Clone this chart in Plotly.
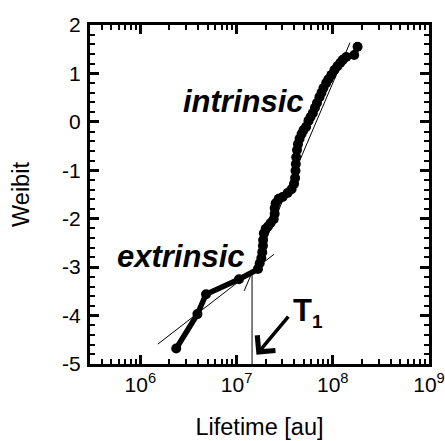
import numpy as np
import plotly.graph_objects as go

# Measured Weibull-plot data (lifetime in au, Weibit)
lifetime = [2.36e6, 3.92e6, 4.82e6, 1.06e7, 1.67e7,
            1.74e7, 1.81e7, 1.85e7, 1.88e7, 1.89e7, 1.92e7, 2.01e7, 2.12e7, 2.26e7, 2.43e7,
            2.49e7, 2.49e7, 2.55e7, 2.74e7, 3.01e7, 3.39e7, 3.73e7, 3.96e7, 4.06e7, 4.10e7,
            4.13e7, 4.17e7, 4.25e7, 4.35e7, 4.52e7, 4.74e7, 4.97e7, 5.29e7, 5.59e7, 5.87e7,
            6.20e7, 6.53e7, 6.85e7, 7.27e7, 7.63e7, 8.00e7, 8.53e7, 9.00e7, 9.68e7, 1.04e8,
            1.12e8, 1.20e8, 1.27e8, 1.38e8, 1.67e8, 1.81e8]
weibit = [-4.68, -3.97, -3.56, -3.25, -3.04,
          -2.92, -2.81, -2.69, -2.56, -2.44, -2.30, -2.21, -2.16, -2.09, -2.01,
          -1.90, -1.78, -1.68, -1.59, -1.55, -1.47, -1.39, -1.28, -1.16, -1.01,
          -0.87, -0.73, -0.58, -0.46, -0.35, -0.25, -0.17, -0.10, 0.02, 0.10,
          0.18, 0.29, 0.39, 0.51, 0.60, 0.70, 0.80, 0.88, 0.97, 1.07,
          1.15, 1.22, 1.28, 1.34, 1.38, 1.55]

# Fit lines
extr_fit_x = [1.52e6, 2.45e7]
extr_fit_y = [-4.59, -2.735]
intr_fit_x = [1.20e7, 1.51e8]
intr_fit_y = [-3.49, 1.635]

# T1 marker
t1_x = [1.45e7, 1.45e7]
t1_y = [-5.0, -3.12]

x_tickvals = [1e6, 1e7, 1e8, 1e9]
x_ticktext = ["10<sup>6</sup>", "10<sup>7</sup>", "10<sup>8</sup>", "10<sup>9</sup>"]
y_tickvals = [-5, -4, -3, -2, -1, 0, 1, 2]
y_ticktext = ["-5", "-4", "-3", "-2", "-1", "0", "1", "2"]

# minor tick positions
x_minor = [m * 10.0 ** e for e in range(5, 9) for m in range(2, 10)]
y_minor = [round(-5 + 0.2 * k, 1) for k in range(36) if k % 5 != 0]

FONT = "Liberation Sans, Arial, sans-serif"
XR = [np.log10(3e5), 9]
YR = [-5, 2]

fig = go.Figure()
fig.add_trace(go.Scatter(x=extr_fit_x, y=extr_fit_y, mode="lines",
                         line=dict(color="black", width=1), showlegend=False))
fig.add_trace(go.Scatter(x=intr_fit_x, y=intr_fit_y, mode="lines",
                         line=dict(color="black", width=1), showlegend=False))
fig.add_trace(go.Scatter(x=t1_x, y=t1_y, mode="lines",
                         line=dict(color="#555555", width=1.5), showlegend=False))
fig.add_trace(go.Scatter(x=lifetime, y=weibit, mode="lines+markers",
                         line=dict(color="black", width=5.5),
                         marker=dict(color="black", size=10), showlegend=False))
# invisible trace to carry the minor-tick axes
fig.add_trace(go.Scatter(x=lifetime, y=weibit, mode="markers", xaxis="x2", yaxis="y2",
                         marker=dict(opacity=0), hoverinfo="skip", showlegend=False))

fig.add_annotation(x=7.075, y=0.43, xref="x", yref="y",
                   text="<b><i>intrinsic</i></b>", showarrow=False,
                   font=dict(family=FONT, size=31, color="black"))
fig.add_annotation(x=6.419, y=-2.78, xref="x", yref="y",
                   text="<b><i>extrinsic</i></b>", showarrow=False,
                   font=dict(family=FONT, size=31, color="black"))
fig.add_annotation(x=7.74, y=-3.93, xref="x", yref="y",
                   text="<b>T<sub><span style='font-size:19px'>1</span></sub></b>",
                   showarrow=False,
                   font=dict(family=FONT, size=31, color="black"))
fig.add_annotation(x=7.207, y=-4.81, xref="x", yref="y",
                   ax=7.551, ay=-3.99, axref="x", ayref="y",
                   text="", showarrow=True, arrowhead=4, arrowsize=1.3,
                   arrowwidth=3.5, arrowcolor="black")

fig.update_layout(
    width=445, height=441, margin=dict(l=90, r=16, t=25, b=77),
    plot_bgcolor="white", paper_bgcolor="white",
    xaxis=dict(type="log", range=XR, automargin=False,
               tickvals=x_tickvals, ticktext=x_ticktext,
               ticks="inside", ticklen=9, tickwidth=2.5, tickcolor="black",
               mirror="allticks",
               showline=True, linewidth=3, linecolor="black",
               showgrid=False, zeroline=False,
               tickfont=dict(family=FONT, size=21, color="black"),
               title=dict(text="Lifetime [au]",
                          font=dict(family=FONT, size=23.5, color="black"),
                          standoff=24)),
    yaxis=dict(range=YR, tickvals=y_tickvals, ticktext=y_ticktext, automargin=False,
               ticks="inside", ticklen=9, tickwidth=2.5, tickcolor="black",
               mirror="allticks",
               showline=True, linewidth=3, linecolor="black",
               showgrid=False, zeroline=False, ticklabelstandoff=2,
               tickfont=dict(family=FONT, size=21, color="black"),
               title=dict(text="Weibit",
                          font=dict(family=FONT, size=23.5, color="black"),
                          standoff=26)),
    xaxis2=dict(type="log", range=XR, overlaying="x", side="bottom", automargin=False,
                tickvals=x_minor, showticklabels=False,
                ticks="inside", ticklen=5, tickwidth=2, tickcolor="black",
                mirror="allticks", showline=False, showgrid=False, zeroline=False),
    yaxis2=dict(range=YR, overlaying="y", side="left", automargin=False,
                tickvals=y_minor, showticklabels=False,
                ticks="inside", ticklen=5, tickwidth=2, tickcolor="black",
                mirror="allticks", showline=False, showgrid=False, zeroline=False),
)
fig.write_html("out.html")
